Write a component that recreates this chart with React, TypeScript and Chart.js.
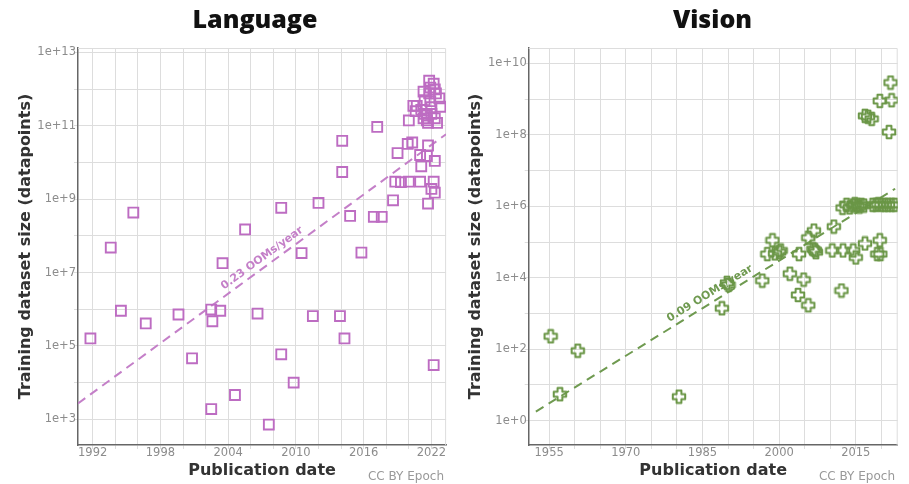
import React, { useEffect, useRef } from "react";
import { Chart, registerables } from "chart.js";
Chart.register(...registerables);

// ---------- Language data ----------
const langYears = [
  1991.8, 1993.6, 1994.5, 1995.6, 1996.7, 1999.6, 2000.8, 2002.5, 2002.6, 2003.3,
  2003.5, 2002.5, 2004.6, 2005.5, 2006.6, 2007.6, 2008.7, 2008.7, 2009.8, 2010.5,
  2011.5, 2012.0, 2013.9, 2014.3, 2014.1, 2014.1, 2014.8, 2015.8, 2016.9, 2017.6,
  2017.2, 2018.6, 2019.0, 2018.8, 2019.3, 2020.0, 2021.0, 2019.9, 2020.3, 2020.0,
  2020.4, 2020.6, 2021.1, 2021.0, 2021.7, 2021.7, 2021.6, 2022.0, 2022.3, 2022.2,
  2022.3, 2022.2, 2021.8, 2022.2, 2021.3, 2022.3, 2022.7, 2022.8, 2021.4, 2021.9,
  2021.1, 2021.6, 2022.0, 2021.3, 2022.3, 2021.7, 2022.5, 2021.6, 2022.0, 2020.7,
  2022.4, 2021.8, 2021.9, 2021.4,
];
const langSizes = [
  1.6e5, 4.8e7, 9.1e5, 4.3e8, 4.1e5, 7.2e5, 4.6e4, 9.8e5, 4.7e5, 9.1e5,
  1.8e7, 1.9e3, 4.6e3, 1.5e8, 7.6e5, 7.2e2, 5.8e8, 5.9e4, 1.0e4, 3.4e7,
  6.5e5, 7.9e8, 6.5e5, 1.6e5, 3.9e10, 5.5e9, 3.5e8, 3.5e7, 3.3e8, 3.3e8,
  9.3e10, 9.3e8, 1.8e10, 3.0e9, 2.9e9, 3.0e9, 3.0e9, 3.2e10, 3.5e10, 1.4e11,
  3.5e11, 2.5e11, 7.9e9, 1.6e10, 7.6e8, 2.9e10, 1.5e10, 1.9e9, 1.5e9, 3.0e9,
  1.1e10, 3.0e4, 1.7e12, 1.4e12, 8.5e11, 9.8e11, 5.6e11, 3.3e11, 5.0e11, 4.7e11,
  2.7e11, 1.9e11, 2.1e11, 1.6e11, 1.6e11, 1.2e11, 1.2e11, 1.4e11, 3.2e11, 3.5e11,
  7.6e11, 7.6e11, 1.1e12, 2.1e11,
];
const langTrendYears = [1990.7, 2023.3];
const langTrendSizes = [2.7e3, 5.9e10];
const langTrendLabel = "0.23 OOMs/year";

// ---------- Vision data ----------
const visionYears = [
  1955.3, 1957.1, 1960.6, 1980.4, 1988.8, 1990.1, 1989.8, 1996.7, 1997.7, 1998.7,
  1999.2, 2000.3, 2000.0, 2002.1, 2003.7, 2003.9, 2004.8, 2005.7, 2005.7, 2006.8,
  2007.0, 2007.2, 2006.7, 2010.7, 2010.4, 2012.2, 2012.5, 2014.5, 2015.0, 2016.8,
  2019.7, 2019.2, 2019.8, 2021.5, 2019.7, 2022.0, 2021.8, 2016.8, 2018.1, 2017.4,
  2012.4, 2013.2, 2013.8, 2014.5, 2014.8, 2015.3, 2015.7, 2016.1, 2016.6, 2018.3,
  2018.9, 2019.4, 2020.0, 2020.7, 2021.3, 2022.0, 2022.6,
];
const visionSizes = [
  230, 5.5, 91, 4.7, 1400, 6300, 7200, 8300, 46000, 112000,
  48000, 58000, 52000, 13000, 3300, 46000, 8900, 1700, 132000, 209000,
  59000, 52000, 63000, 270000, 58000, 4400, 58000, 58000, 37000, 91000,
  112000, 46000, 46000, 1.2e8, 8.9e8, 9.3e8, 2.9e9, 3.4e8, 2.8e8, 3.2e8,
  9.1e5, 1.1e6, 9.3e5, 1.05e6, 1.15e6, 1.07e6, 9.8e5, 1.1e6, 1.05e6, 1.1e6,
  1.1e6, 1.15e6, 1.1e6, 1.1e6, 1.1e6, 1.1e6, 1.1e6,
];
const visionTrendYears = [1952.4, 2022.7];
const visionTrendSizes = [1.8, 3.1e6];
const visionTrendLabel = "0.09 OOMs/year";

// ---------- Axis ticks ----------
const langGridYears = [1992, 1994, 1996, 1998, 2000, 2002, 2004, 2006, 2008, 2010, 2012, 2014, 2016, 2018, 2020, 2022];
const langLabelYears = [1992, 1998, 2004, 2010, 2016, 2022];
const langDecades = [1e3, 1e4, 1e5, 1e6, 1e7, 1e8, 1e9, 1e10, 1e11, 1e12, 1e13];
const langLabelExps = [3, 5, 7, 9, 11, 13];

const visionGridYears = [1955, 1960, 1965, 1970, 1975, 1980, 1985, 1990, 1995, 2000, 2005, 2010, 2015, 2020];
const visionLabelYears = [1955, 1970, 1985, 2000, 2015];
const visionDecades = [1, 1e1, 1e2, 1e3, 1e4, 1e5, 1e6, 1e7, 1e8, 1e9, 1e10];
const visionLabelExps = [0, 2, 4, 6, 8, 10];

const PURPLE = "#bd6cc2";
const PURPLE_LINE = "#c47fc8";
const GREEN = "#6a9646";
const GREEN_LINE = "#6f9a50";

function plusCanvas(color: string) {
  const s = 16;
  const c = document.createElement("canvas");
  c.width = s;
  c.height = s;
  const ctx = c.getContext("2d")!;
  const m = s / 2, h = 6.2, w = 2.4;
  const pts = [
    [-w, -h], [w, -h], [w, -w], [h, -w], [h, w], [w, w],
    [w, h], [-w, h], [-w, w], [-h, w], [-h, -w], [-w, -w],
  ];
  ctx.beginPath();
  pts.forEach(([x, y], i) => (i ? ctx.lineTo(m + x, m + y) : ctx.moveTo(m + x, m + y)));
  ctx.closePath();
  ctx.strokeStyle = color;
  ctx.lineWidth = 2;
  ctx.lineJoin = "round";
  ctx.stroke();
  return c;
}

type Cfg = {
  title: string;
  titleX: number;
  years: number[];
  sizes: number[];
  trendYears: number[];
  trendSizes: number[];
  trendLabel: string;
  trendT: number;
  color: string;
  lineColor: string;
  pointStyle: any;
  pointRadius: number;
  xMin: number;
  xMax: number;
  yMin: number;
  yMax: number;
  gridYears: number[];
  labelYears: number[];
  decades: number[];
  labelExps: number[];
  yAxisWidth: number;
  yTitlePad: number;
  padRight: number;
  creditX: number;
};

function makeConfig(cfg: Cfg): any {
  const decor = {
    id: "decor",
    beforeDatasetsDraw(chart: any) {
      const { ctx, chartArea: a, scales } = chart;
      ctx.save();
      ctx.strokeStyle = "#dddddd";
      ctx.lineWidth = 1;
      ctx.beginPath();
      ctx.moveTo(a.left, a.top + 0.5);
      ctx.lineTo(a.right - 0.5, a.top + 0.5);
      ctx.lineTo(a.right - 0.5, a.bottom);
      ctx.stroke();
      // trend label
      const xs = scales.x, ys = scales.y;
      const x0 = xs.getPixelForValue(cfg.trendYears[0]);
      const y0 = ys.getPixelForValue(cfg.trendSizes[0]);
      const x1 = xs.getPixelForValue(cfg.trendYears[1]);
      const y1 = ys.getPixelForValue(cfg.trendSizes[1]);
      const ang = Math.atan2(y1 - y0, x1 - x0);
      const bx = x0 + cfg.trendT * (x1 - x0);
      const by = y0 + cfg.trendT * (y1 - y0);
      const d = 8.5;
      const cx = bx + d * Math.sin(ang);
      const cy = by - d * Math.cos(ang);
      ctx.translate(cx, cy);
      ctx.rotate(ang);
      ctx.fillStyle = cfg.lineColor;
      ctx.font = "bold 11px 'DejaVu Sans'";
      ctx.textAlign = "center";
      ctx.textBaseline = "middle";
      ctx.fillText(cfg.trendLabel, 0, 0);
      ctx.restore();
    },
    afterDraw(chart: any) {
      const { ctx } = chart;
      ctx.save();
      ctx.fillStyle = "#111";
      ctx.font = "800 25px 'Open Sans'";
      ctx.textAlign = "center";
      ctx.textBaseline = "alphabetic";
      ctx.fillText(cfg.title, cfg.titleX, 27.7);
      ctx.fillStyle = "#999";
      ctx.font = "12px 'DejaVu Sans'";
      ctx.textAlign = "right";
      ctx.fillText("CC BY Epoch", cfg.creditX, 479.5);
      ctx.restore();
    },
  };

  return {
    type: "scatter",
    data: {
      datasets: [
        {
          data: cfg.years.map((x, i) => ({ x, y: cfg.sizes[i] })),
          pointStyle: cfg.pointStyle,
          pointRadius: cfg.pointRadius,
          pointHoverRadius: cfg.pointRadius,
          borderColor: cfg.color,
          backgroundColor: "rgba(0,0,0,0)",
          borderWidth: 1.9,
          showLine: false,
        },
        {
          type: "line",
          data: cfg.trendYears.map((x, i) => ({ x, y: cfg.trendSizes[i] })),
          borderColor: cfg.lineColor,
          borderWidth: 2,
          borderDash: [9, 6],
          pointRadius: 0,
          fill: false,
          showLine: true,
        },
      ],
    },
    options: {
      responsive: false,
      animation: false,
      events: [],
      layout: { padding: { left: 0, right: cfg.padRight, top: 48, bottom: 0 } },
      plugins: { legend: { display: false }, tooltip: { enabled: false }, title: { display: false } },
      scales: {
        x: {
          type: "linear",
          min: cfg.xMin,
          max: cfg.xMax,
          afterBuildTicks: (s: any) => {
            s.ticks = cfg.gridYears.map((v) => ({ value: v }));
          },
          afterFit: (s: any) => {
            s.height = 39;
          },
          ticks: {
            autoSkip: false,
            maxRotation: 0,
            padding: -3,
            color: "#8c8c8c",
            font: { family: "'DejaVu Sans'", size: 11.5 },
            callback: (v: any) => (cfg.labelYears.includes(v) ? String(v) : ""),
          },
          grid: { color: "#dddddd", lineWidth: 1, tickLength: 4 },
          border: { color: "#666666", width: 1.5 },
          title: {
            display: true,
            text: "Publication date",
            color: "#333333",
            font: { family: "'DejaVu Sans'", weight: "bold", size: 16 },
            padding: { top: 0, bottom: 3.4 },
          },
        },
        y: {
          type: "logarithmic",
          min: cfg.yMin,
          max: cfg.yMax,
          afterBuildTicks: (s: any) => {
            s.ticks = cfg.decades.map((v) => ({ value: v }));
          },
          afterFit: (s: any) => {
            s.width = cfg.yAxisWidth;
          },
          ticks: {
            autoSkip: false,
            padding: -2,
            color: "#8c8c8c",
            font: { family: "'DejaVu Sans'", size: 11.5 },
            callback: (v: any) => {
              const e = Math.round(Math.log10(v));
              return cfg.labelExps.includes(e) ? `1e+${e}` : "";
            },
          },
          grid: { color: "#dddddd", lineWidth: 1, tickLength: 4 },
          border: { color: "#666666", width: 1.5 },
          title: {
            display: true,
            text: "Training dataset size (datapoints)",
            color: "#333333",
            font: { family: "'DejaVu Sans'", weight: "bold", size: 16 },
            padding: { top: cfg.yTitlePad, bottom: 0 },
          },
        },
      },
    },
    plugins: [decor],
  };
}

function ChartCanvas({ cfg, width, left }: { cfg: () => Cfg; width: number; left: number }) {
  const ref = useRef<HTMLCanvasElement>(null);
  useEffect(() => {
    const chart = new Chart(ref.current!, makeConfig(cfg()));
    return () => chart.destroy();
  }, []);
  return (
    <canvas
      ref={ref}
      width={width}
      height={484}
      style={{ position: "absolute", left, top: 0, width, height: 484 }}
    />
  );
}

const langCfg = (): Cfg => ({
  title: "Language",
  titleX: 255,
  years: langYears,
  sizes: langSizes,
  trendYears: langTrendYears,
  trendSizes: langTrendSizes,
  trendLabel: langTrendLabel,
  trendT: 0.514,
  color: PURPLE,
  lineColor: PURPLE_LINE,
  pointStyle: "rect",
  pointRadius: 7,
  xMin: 1990.7,
  xMax: 2023.3,
  yMin: Math.pow(10, 2.3),
  yMax: Math.pow(10, 13.12),
  gridYears: langGridYears,
  labelYears: langLabelYears,
  decades: langDecades,
  labelExps: langLabelExps,
  yAxisWidth: 78,
  yTitlePad: 16,
  padRight: 7,
  creditX: 444,
});

const visionCfg = (): Cfg => ({
  title: "Vision",
  titleX: 257.5,
  years: visionYears,
  sizes: visionSizes,
  trendYears: visionTrendYears,
  trendSizes: visionTrendSizes,
  trendLabel: visionTrendLabel,
  trendT: 0.497,
  color: GREEN,
  lineColor: GREEN_LINE,
  pointStyle: plusCanvas(GREEN),
  pointRadius: 7,
  xMin: 1951.0,
  xMax: 2023.2,
  yMin: Math.pow(10, -0.68),
  yMax: Math.pow(10, 10.43),
  gridYears: visionGridYears,
  labelYears: visionLabelYears,
  decades: visionDecades,
  labelExps: visionLabelExps,
  yAxisWidth: 73.7,
  yTitlePad: 10.9,
  padRight: 11.3,
  creditX: 440,
});

export default function App() {
  return (
    <div style={{ position: "absolute", left: 0, top: 0, width: 909, height: 484, background: "#fff" }}>
      <ChartCanvas cfg={langCfg} width={455} left={0} />
      <ChartCanvas cfg={visionCfg} width={454} left={455} />
    </div>
  );
}
